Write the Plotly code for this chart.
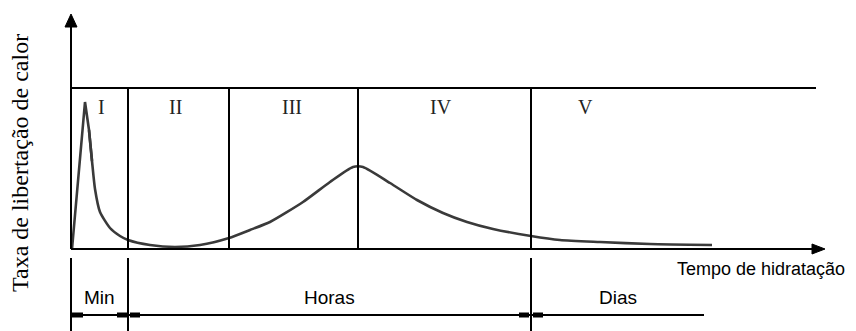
import plotly.graph_objects as go

# ---- data (x: time units, y: heat release rate units) ----
time_x = [1, 7, 14, 18, 21, 24, 29, 39, 49, 57, 79, 104, 129, 158, 179, 199, 232, 259,
          282, 292, 319, 346, 372, 396, 422, 460, 489, 529, 579, 641]
heat_y = [0, 69, 147, 119, 88, 60, 37, 21, 13, 9, 4, 2, 4, 11, 19, 27, 47, 67,
          82, 82, 66, 49, 36, 27, 20, 13, 9, 7, 5, 4]

phase_bounds = [57, 158, 287, 460]          # dividers between stages
phase_labels = ["I", "II", "III", "IV", "V"]
phase_label_x = [30, 104, 221, 370, 514]

scale_labels = ["Min", "Horas", "Dias"]
scale_label_x = [28, 258, 547]
scale_bounds = [0, 57, 460, 633]            # start/ends of time-scale brackets

y_label = "Taxa de libertação de calor"
x_label = "Tempo de hidratação"

# page body has an 8px margin: the figure is 848x323 and starts at (8, 8)
X_MIN, X_MAX = -63, 785
Y_MIN, Y_MAX = -82, 241
TOP = 161          # top frame line level
AX_TOP = 226       # y-axis line end
X_END = 745        # x-axis line end
BR_Y = -66         # bracket line level
BR_TOP = -9        # top of bracket verticals

fig = go.Figure()
# sharp first peak (linear), smooth remainder (spline)
fig.add_trace(go.Scatter(x=time_x[:5], y=heat_y[:5], mode="lines",
                         line=dict(color="#3a3a3a", width=2.6, shape="linear"),
                         hoverinfo="skip", showlegend=False, cliponaxis=False))
fig.add_trace(go.Scatter(x=time_x[3:], y=heat_y[3:], mode="lines",
                         line=dict(color="#3a3a3a", width=2.6, shape="spline", smoothing=0.6),
                         hoverinfo="skip", showlegend=False, cliponaxis=False))

shapes = []
blk = dict(color="black", width=2)
# axes
shapes.append(dict(type="line", x0=0, x1=0, y0=0, y1=AX_TOP, line=blk))
shapes.append(dict(type="line", x0=0, x1=X_END, y0=0, y1=0, line=blk))
# arrowheads
shapes.append(dict(type="path", path="M -6 222 L 0 235 L 6 222 Z",
                   fillcolor="black", line=dict(color="black", width=1)))
shapes.append(dict(type="path", path="M 741 -5 L 754 0 L 741 5 Z",
                   fillcolor="black", line=dict(color="black", width=1)))
# top frame line
shapes.append(dict(type="line", x0=0, x1=X_END, y0=TOP, y1=TOP, line=blk))
# phase dividers
for b in phase_bounds:
    shapes.append(dict(type="line", x0=b, x1=b, y0=0, y1=TOP, line=blk))
# time-scale brackets
for b in [scale_bounds[0], scale_bounds[1], scale_bounds[2]]:
    shapes.append(dict(type="line", x0=b, x1=b, y0=Y_MIN, y1=BR_TOP, line=blk))
shapes.append(dict(type="line", x0=scale_bounds[0], x1=scale_bounds[3], y0=BR_Y, y1=BR_Y, line=blk))
# small arrow end marks on the bracket line
marks = [(scale_bounds[0] + 1, scale_bounds[0] + 12), (scale_bounds[1] - 11, scale_bounds[1] - 1),
         (scale_bounds[1] + 2, scale_bounds[1] + 12), (scale_bounds[2] - 12, scale_bounds[2] - 2),
         (scale_bounds[2] + 2, scale_bounds[2] + 12)]
for a, b in marks:
    shapes.append(dict(type="line", x0=a, x1=b, y0=BR_Y, y1=BR_Y, line=dict(color="black", width=5)))

annotations = []
for lab, lx in zip(phase_labels, phase_label_x):
    annotations.append(dict(x=lx, y=142, text=lab, showarrow=False,
                            font=dict(family="Liberation Serif", size=20, color="#222"),
                            xanchor="center", yanchor="middle"))
for lab, lx in zip(scale_labels, scale_label_x):
    annotations.append(dict(x=lx, y=-48, text=lab, showarrow=False,
                            font=dict(family="Liberation Sans", size=19, color="black"),
                            xanchor="center", yanchor="middle"))
annotations.append(dict(x=690, y=-20, text=x_label, showarrow=False,
                        font=dict(family="Liberation Sans", size=18, color="black"),
                        xanchor="center", yanchor="middle"))
annotations.append(dict(x=-51, y=86, text=y_label, showarrow=False, textangle=-90,
                        font=dict(family="Liberation Serif", size=24, color="black"),
                        xanchor="center", yanchor="middle"))

fig.update_layout(
    width=848, height=323,
    margin=dict(l=0, r=0, t=0, b=0),
    paper_bgcolor="white", plot_bgcolor="white",
    xaxis=dict(range=[X_MIN, X_MAX], visible=False, fixedrange=True),
    yaxis=dict(range=[Y_MIN, Y_MAX], visible=False, fixedrange=True),
    shapes=shapes, annotations=annotations, showlegend=False,
)
fig.write_html("out.html")
